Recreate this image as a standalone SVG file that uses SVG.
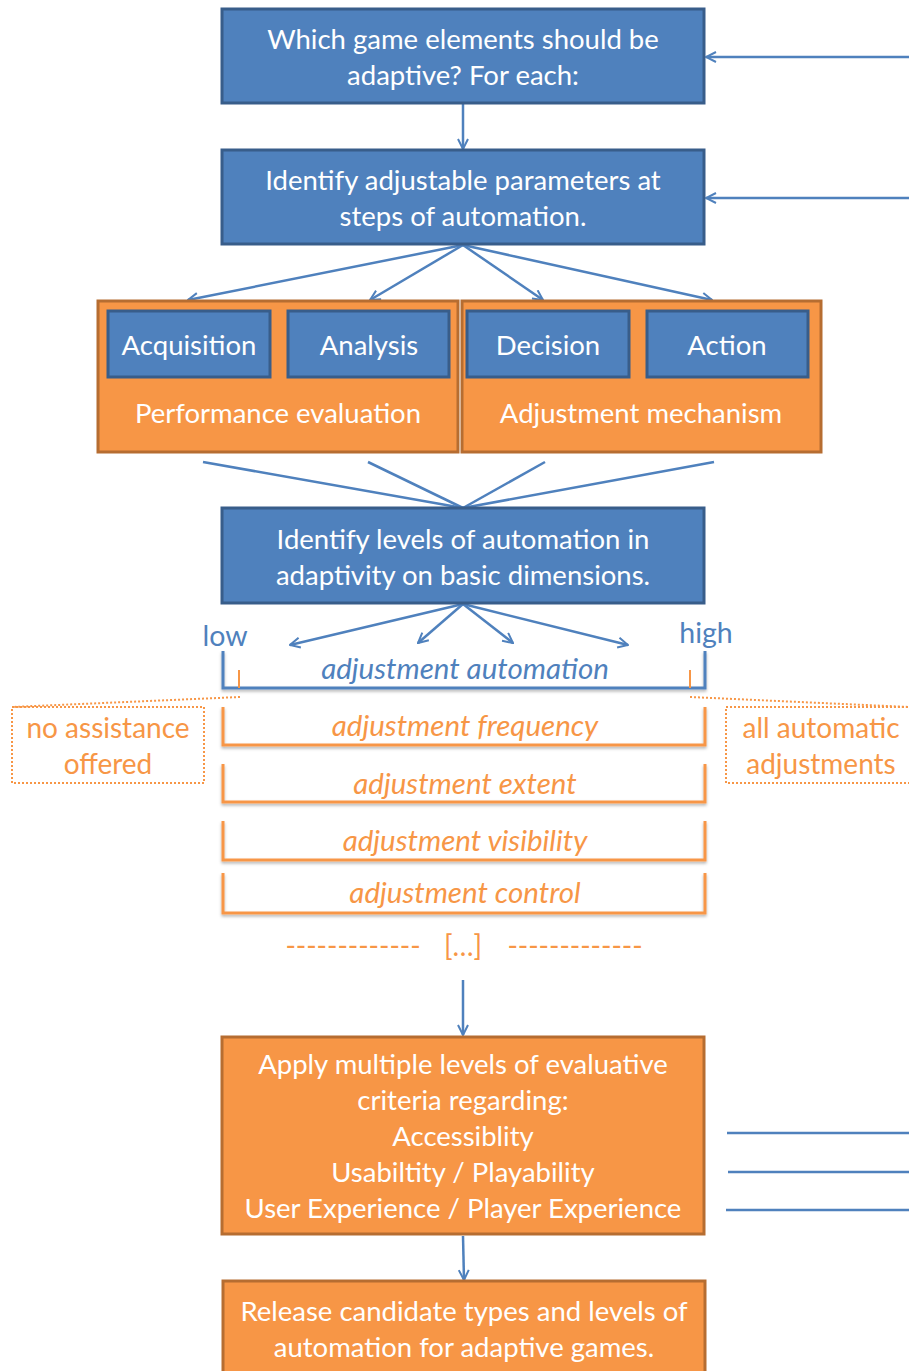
<svg xmlns="http://www.w3.org/2000/svg" width="909" height="1371" viewBox="0 0 909 1371">
<defs>
<style>
.bb{fill:#4F81BD;stroke:#385D8A;stroke-width:3}
.ob{fill:#F79646;stroke:#B66D31;stroke-width:3}
.wt{font-family:Lato,"Open Sans","Liberation Sans",sans-serif;font-size:27.5px;fill:#fff;text-anchor:middle}
.bt{font-family:Lato,"Open Sans","Liberation Sans",sans-serif;font-size:28.5px;fill:#4F81BD;text-anchor:middle}
.ot{font-family:Lato,"Open Sans","Liberation Sans",sans-serif;font-size:28px;fill:#F79646;text-anchor:middle}
.it{font-style:italic;font-size:29.5px}
.cn{stroke:#4F81BD;stroke-width:2.5;fill:none}
.obr{stroke:#F79646;stroke-width:3;fill:none}
.dot{stroke:#F79646;stroke-width:2;fill:none;stroke-dasharray:2 2}
</style>
<marker id="ah" viewBox="0 0 12 12" refX="11" refY="6" markerWidth="12" markerHeight="12" markerUnits="userSpaceOnUse" orient="auto">
<path d="M1,1 L11,6 L1,11" fill="none" stroke="#4F81BD" stroke-width="2"/>
</marker>
<filter id="sh" x="-5%" y="-20%" width="110%" height="160%">
<feDropShadow dx="0" dy="2" stdDeviation="1.5" flood-color="#000" flood-opacity="0.3"/>
</filter>
</defs>
<rect width="909" height="1371" fill="#fff"/>

<g id="connectors">
<line class="cn" x1="463" y1="104" x2="463" y2="149" marker-end="url(#ah)"/>
<line class="cn" x1="909" y1="57" x2="706" y2="57" marker-end="url(#ah)"/>
<line class="cn" x1="909" y1="198" x2="706" y2="198" marker-end="url(#ah)"/>
<line class="cn" x1="463" y1="245" x2="188" y2="300" marker-end="url(#ah)"/>
<line class="cn" x1="463" y1="245" x2="370" y2="300" marker-end="url(#ah)"/>
<line class="cn" x1="463" y1="245" x2="543" y2="300" marker-end="url(#ah)"/>
<line class="cn" x1="463" y1="245" x2="712" y2="300" marker-end="url(#ah)"/>
<line class="cn" x1="203" y1="462" x2="463" y2="508"/>
<line class="cn" x1="368" y1="462" x2="463" y2="508"/>
<line class="cn" x1="545" y1="462" x2="463" y2="508"/>
<line class="cn" x1="714" y1="462" x2="463" y2="508"/>
<line class="cn" x1="463" y1="604" x2="290" y2="645" marker-end="url(#ah)"/>
<line class="cn" x1="463" y1="604" x2="418" y2="643" marker-end="url(#ah)"/>
<line class="cn" x1="463" y1="604" x2="513" y2="643" marker-end="url(#ah)"/>
<line class="cn" x1="463" y1="604" x2="628" y2="645" marker-end="url(#ah)"/>
<line class="cn" x1="463" y1="980" x2="463" y2="1035" marker-end="url(#ah)"/>
<line class="cn" x1="463" y1="1236" x2="464" y2="1280" marker-end="url(#ah)"/>
<line class="cn" x1="727" y1="1133" x2="909" y2="1133"/>
<line class="cn" x1="728" y1="1172" x2="909" y2="1172"/>
<line class="cn" x1="726" y1="1210" x2="909" y2="1210"/>
</g>

<g id="n1">
<rect class="bb" x="222" y="9" width="482" height="94"/>
<text class="wt" x="463" y="49">Which game elements should be</text>
<text class="wt" x="463" y="85">adaptive? For each:</text>
</g>
<g id="n2">
<rect class="bb" x="222" y="150" width="482" height="94"/>
<text class="wt" x="463" y="190">Identify adjustable parameters at</text>
<text class="wt" x="463" y="226">steps of automation.</text>
</g>

<g id="perf">
<rect class="ob" x="98" y="301" width="360" height="151"/>
<text class="wt" x="278" y="423">Performance evaluation</text>
</g>
<g id="adjm">
<rect class="ob" x="462" y="301" width="359" height="151"/>
<text class="wt" x="641" y="423">Adjustment mechanism</text>
</g>
<g id="acq">
<rect class="bb" x="108" y="311" width="162" height="66"/>
<text class="wt" x="189" y="355">Acquisition</text>
</g>
<g id="ana">
<rect class="bb" x="288" y="311" width="161" height="66"/>
<text class="wt" x="369" y="355">Analysis</text>
</g>
<g id="dec">
<rect class="bb" x="467" y="311" width="162" height="66"/>
<text class="wt" x="548" y="355">Decision</text>
</g>
<g id="act">
<rect class="bb" x="647" y="311" width="161" height="66"/>
<text class="wt" x="727" y="355">Action</text>
</g>

<g id="n3">
<rect class="bb" x="222" y="508" width="482" height="95"/>
<text class="wt" x="463" y="549">Identify levels of automation in</text>
<text class="wt" x="463" y="585">adaptivity on basic dimensions.</text>
</g>

<g id="scale">
<text class="bt" x="225" y="646">low</text>
<text class="bt" x="706" y="643">high</text>
<path d="M223,651 V688 H705 V651" stroke="#4F81BD" stroke-width="3" fill="none" filter="url(#sh)"/>
<line x1="239" y1="670" x2="239" y2="688" stroke="#F79646" stroke-width="2"/>
<line x1="690" y1="670" x2="690" y2="688" stroke="#F79646" stroke-width="2"/>
<text class="bt it" x="465" y="679">adjustment automation</text>
</g>

<g id="noassist">
<path class="dot" d="M240,697 L12,707"/>
<rect class="dot" x="12" y="707" width="192" height="76"/>
<text class="ot" x="108" y="738">no assistance</text>
<text class="ot" x="108" y="774">offered</text>
</g>
<g id="allauto">
<path class="dot" d="M690,697 L909,707"/>
<rect class="dot" x="726" y="707" width="190" height="76"/>
<text class="ot" x="821" y="738">all automatic</text>
<text class="ot" x="821" y="774">adjustments</text>
</g>

<g id="freq">
<path class="obr" d="M223,707 V745 H705 V707" filter="url(#sh)"/>
<text class="ot it" x="465" y="736">adjustment frequency</text>
</g>
<g id="extent">
<path class="obr" d="M223,764 V802 H705 V764" filter="url(#sh)"/>
<text class="ot it" x="465" y="794">adjustment extent</text>
</g>
<g id="visib">
<path class="obr" d="M223,821 V860 H705 V821" filter="url(#sh)"/>
<text class="ot it" x="465" y="851">adjustment visibility</text>
</g>
<g id="control">
<path class="obr" d="M223,873 V913 H705 V873" filter="url(#sh)"/>
<text class="ot it" x="465" y="903">adjustment control</text>
</g>
<g id="more">
<text class="ot" x="353" y="956">-------------</text>
<text class="ot" x="463" y="956">[…]</text>
<text class="ot" x="575" y="956">-------------</text>
</g>

<g id="n4">
<rect class="ob" x="222" y="1037" width="482" height="197"/>
<text class="wt" x="463" y="1074">Apply multiple levels of evaluative</text>
<text class="wt" x="463" y="1110">criteria regarding:</text>
<text class="wt" x="463" y="1146">Accessiblity</text>
<text class="wt" x="463" y="1182">Usabiltity / Playability</text>
<text class="wt" x="463" y="1218">User Experience / Player Experience</text>
</g>
<g id="n5">
<rect class="ob" x="223" y="1281" width="482" height="100"/>
<text class="wt" x="464" y="1321">Release candidate types and levels of</text>
<text class="wt" x="464" y="1357">automation for adaptive games.</text>
</g>
</svg>
